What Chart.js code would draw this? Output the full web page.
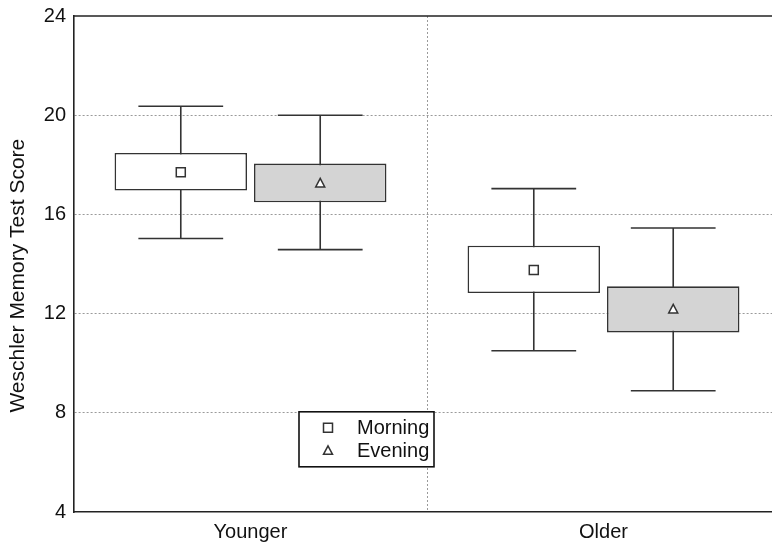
<!DOCTYPE html>
<html>
<head>
<meta charset="utf-8">
<script src="https://cdn.jsdelivr.net/npm/chart.js@4.4.1/dist/chart.umd.min.js"></script>
<style>
  html, body { margin: 0; padding: 0; background: #fff; overflow: hidden; }
  #wrap { width: 772px; height: 542px; overflow: hidden; }
</style>
</head>
<body>
<div id="wrap"><canvas id="chart" width="790" height="542"></canvas></div>
<script>
// Data
const groups = ['Younger', 'Older'];

const morningMean = [17.70, 13.76];
const morningBoxLow = [16.96, 12.83];
const morningBoxHigh = [18.48, 14.74];
const morningWhiskerLow = [15.03, 10.50];
const morningWhiskerHigh = [20.36, 17.04];

const eveningMean = [17.25, 12.17];
const eveningBoxLow = [16.49, 11.24];
const eveningBoxHigh = [18.05, 13.10];
const eveningWhiskerLow = [14.58, 8.89];
const eveningWhiskerHigh = [20.00, 15.45];

const yTicks = [4, 8, 12, 16, 20, 24];

const LINE = '#333333';
const GRID = '#9a9a9a';
const FONT = "'Liberation Sans', Arial, Helvetica, sans-serif";

const series = [
  { label: 'Morning', mean: morningMean, low: morningWhiskerLow, high: morningWhiskerHigh, marker: 'square' },
  { label: 'Evening', mean: eveningMean, low: eveningWhiskerLow, high: eveningWhiskerHigh, marker: 'triangle' },
];

function drawMarker(ctx, kind, x, y) {
  ctx.save();
  ctx.fillStyle = '#fff';
  ctx.strokeStyle = '#333';
  ctx.lineWidth = 1.5;
  ctx.beginPath();
  if (kind === 'square') {
    ctx.rect(x - 4.5, y - 4.5, 9, 9);
  } else {
    ctx.moveTo(x, y - 5);
    ctx.lineTo(x + 4.5, y + 3.5);
    ctx.lineTo(x - 4.5, y + 3.5);
    ctx.closePath();
  }
  ctx.fill();
  ctx.stroke();
  ctx.restore();
}

// whiskers, mean markers, top frame line and the inset legend
const boxExtras = {
  id: 'boxExtras',
  beforeDatasetsDraw(chart) {
    const { ctx, scales: { y } } = chart;
    ctx.save();
    ctx.strokeStyle = LINE;
    ctx.lineWidth = 1.6;
    series.forEach((s, di) => {
      chart.getDatasetMeta(di).data.forEach((bar, i) => {
        const x = bar.x;
        const half = bar.width * 0.32;
        const yHi = y.getPixelForValue(s.high[i]);
        const yLo = y.getPixelForValue(s.low[i]);
        ctx.beginPath();
        ctx.moveTo(x, yHi);
        ctx.lineTo(x, yLo);
        ctx.moveTo(x - half, yHi);
        ctx.lineTo(x + half, yHi);
        ctx.moveTo(x - half, yLo);
        ctx.lineTo(x + half, yLo);
        ctx.stroke();
      });
    });
    ctx.restore();
  },
  afterDatasetsDraw(chart) {
    const { ctx, scales: { y } } = chart;
    series.forEach((s, di) => {
      chart.getDatasetMeta(di).data.forEach((bar, i) => {
        drawMarker(ctx, s.marker, bar.x, y.getPixelForValue(s.mean[i]));
      });
    });
  },
  afterDraw(chart) {
    const { ctx, chartArea, scales: { y } } = chart;
    ctx.save();
    ctx.strokeStyle = '#222';
    ctx.lineWidth = 1.6;
    ctx.beginPath();
    ctx.moveTo(chartArea.left, chartArea.top);
    ctx.lineTo(chartArea.right, chartArea.top);
    ctx.stroke();

    // legend box sits just below the 8 grid line
    const lx = chartArea.left + 225;
    const ly = y.getPixelForValue(8) - 1;
    const lw = 135, lh = 55;
    ctx.fillStyle = '#fff';
    ctx.fillRect(lx, ly, lw, lh);
    ctx.strokeStyle = '#111';
    ctx.strokeRect(lx, ly, lw, lh);
    ctx.font = '20px ' + FONT;
    ctx.textBaseline = 'middle';
    series.forEach((s, i) => {
      const cy = ly + 16 + i * 23;
      drawMarker(ctx, s.marker, lx + 29, cy);
      ctx.fillStyle = '#111';
      ctx.fillText(s.label, lx + 58, cy + 1);
    });
    ctx.restore();
  },
};

new Chart(document.getElementById('chart'), {
  type: 'bar',
  data: {
    labels: groups,
    datasets: [
      {
        label: 'Morning',
        data: groups.map((g, i) => [morningBoxLow[i], morningBoxHigh[i]]),
        backgroundColor: '#ffffff',
        borderColor: LINE,
        borderWidth: 1.6,
        borderSkipped: false,
      },
      {
        label: 'Evening',
        data: groups.map((g, i) => [eveningBoxLow[i], eveningBoxHigh[i]]),
        backgroundColor: '#d4d4d4',
        borderColor: LINE,
        borderWidth: 1.6,
        borderSkipped: false,
      },
    ],
  },
  options: {
    responsive: false,
    animation: false,
    categoryPercentage: 0.79,
    barPercentage: 0.95,
    layout: { padding: { top: 16, right: 10, left: 0, bottom: 0 } },
    plugins: {
      legend: { display: false },
      tooltip: { enabled: false },
    },
    scales: {
      x: {
        grid: {
          offset: true,
          drawTicks: false,
          color: c => (c.index === 1 ? GRID : 'transparent'),
        },
        border: { color: '#222', width: 1.6, dash: [2, 2] },
        ticks: { color: '#111', font: { family: FONT, size: 20 }, padding: 8 },
        afterFit: s => { s.height = 30; },
      },
      y: {
        min: 4,
        max: 24,
        afterBuildTicks: s => { s.ticks = yTicks.map(v => ({ value: v })); },
        grid: {
          drawTicks: false,
          color: c => (c.tick && (c.tick.value === 4 || c.tick.value === 24) ? 'transparent' : GRID),
        },
        border: { color: '#222', width: 1.6, dash: [2, 2] },
        ticks: { color: '#111', font: { family: FONT, size: 20 }, padding: 8 },
        title: {
          display: true,
          // trailing spaces nudge the centred title slightly lower, as in the original
          text: 'Weschler Memory Test Score\u00a0\u00a0\u00a0\u00a0',
          color: '#111',
          font: { family: FONT, size: 21 },
          padding: { top: 6 },
        },
        afterFit: s => {
          s.width = 74;
          s.paddingTop = 0;
          s.paddingBottom = 0;
        },
      },
    },
  },
  plugins: [boxExtras],
});
</script>
</body>
</html>
